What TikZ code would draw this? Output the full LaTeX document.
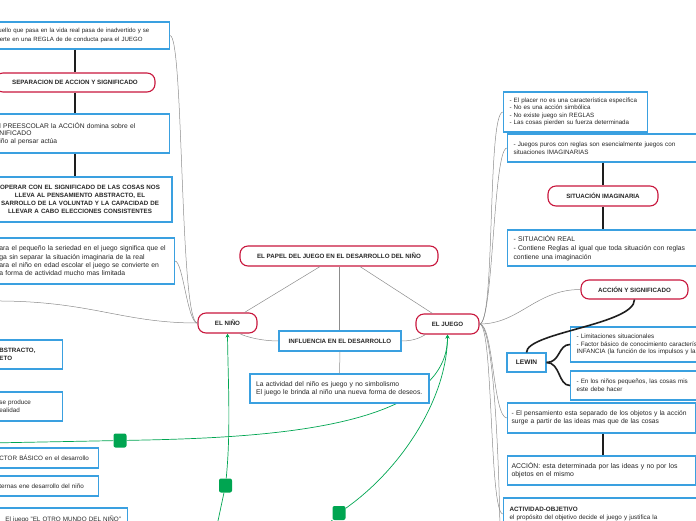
\documentclass[tikz,border=0pt]{standalone}
\usepackage{fontspec}
\setmainfont{Liberation Sans}
\usetikzlibrary{arrows.meta}
\definecolor{map-red}{HTML}{C8163C}
\definecolor{map-blue}{HTML}{3AA0E0}
\definecolor{map-green}{HTML}{00A551}
\definecolor{map-gray}{HTML}{8C8C8C}
\definecolor{map-dark}{HTML}{1E1E1E}

\begin{document}
\begin{tikzpicture}[x=1pt, y=-1pt, >={Stealth[length=4pt, width=4pt]},
      every node/.style={font=\fontsize{6.3}{7.8}\selectfont, text=black!85},
      topic/.style={draw=map-red, line width=1.1pt, fill=white, rounded corners=8pt,
        minimum height=19pt, inner sep=2pt, font=\bfseries\fontsize{6.2}{7.6}\selectfont},
      note/.style={draw=map-blue, line width=1.1pt, fill=white, align=left,
        inner xsep=6pt, inner ysep=2pt},
      heading/.style={font=\bfseries\fontsize{6.2}{7.8}\selectfont},
      big/.style={font=\fontsize{6.8}{8.3}\selectfont},
      branch/.style={draw=map-gray, line width=0.5pt},
      chain/.style={draw=map-dark, line width=1.6pt},
      link/.style={draw=map-green, line width=0.7pt},
      handle/.style={fill=map-green, rounded corners=2pt, minimum width=13pt,
        minimum height=14pt, inner sep=0pt}]
    \useasboundingbox (0,0) rectangle (696,520);
    \clip (0,0) rectangle (696,520);
    \node[topic, minimum width=198pt, minimum height=20pt] (TITLE) at (339,256) {EL PAPEL DEL JUEGO EN EL DESARROLLO DEL NIÑO};
    \node[topic, minimum width=59pt, minimum height=20pt] (NINO) at (227.5,323) {EL NIÑO};
    \node[topic, minimum width=63pt, minimum height=20pt] (JUEGO) at (447.5,324) {EL JUEGO};
    \node[note, heading, align=center, minimum width=122pt, minimum height=20pt] (INFL) at (340,341) {INFLUENCIA EN EL DESARROLLO};
    % rama del nino
    \node[note, anchor=east, text width=165pt, minimum height=27pt, font=\fontsize{6.1}{8.6}\selectfont] (REGLA) at (170,35.5) {uello que pasa en la vida real pasa de inadvertido y se\\ierte en una REGLA de de conducta para el JUEGO};
    \node[topic, minimum width=160pt] (SEPARA) at (75,82.5) {SEPARACION DE ACCION Y SIGNIFICADO};
    \node[note, anchor=east, text width=164pt, minimum height=39pt, font=\fontsize{6.7}{7.6}\selectfont] (PREESC) at (170,133.5) {l PREESCOLAR la ACCIÓN domina sobre el\\NIFICADO\\iño al pensar actúa};
    \node[note, heading, align=center, text width=172pt, minimum height=45pt] (OPERAR) at (80,199.5) {OPERAR CON EL SIGNIFICADO DE LAS COSAS NOS\\LLEVA AL PENSAMIENTO ABSTRACTO, EL\\SARROLLO DE LA VOLUNTAD Y LA CAPACIDAD DE\\LLEVAR A CABO ELECCIONES CONSISTENTES};
    \node[note, big, anchor=east, text width=169pt, minimum height=46pt] (PEQUE) at (175,261) {ara el pequeño la seriedad en el juego significa que el\\ga sin separar la situación imaginaria de la real\\ara el niño en edad escolar el juego se convierte en\\a forma de actividad mucho mas limitada};
    \node[note, heading, anchor=east, text width=57pt, minimum height=29pt] (ABSTR) at (63,354.5) {BSTRACTO,\\ETO};
    \node[note, anchor=east, text width=57pt, minimum height=29pt] (REALID) at (63,406.5) {se produce\\ealidad};
    \node[note, anchor=east, text width=93pt, minimum height=20pt] (FACTOR) at (99,458) {CTOR BÁSICO en el desarrollo};
    \node[note, anchor=east, text width=93pt, minimum height=20pt] (INTERN) at (99,486) {ternas ene desarrollo del niño};
    \node[note, anchor=east, text width=116pt, minimum height=22pt] (OTRO) at (128,519) {El juego "EL OTRO MUNDO DEL NIÑO"};
    % rama del juego
    \node[note, anchor=west, text width=132pt, minimum height=40pt, font=\fontsize{6.2}{7.4}\selectfont] (PLACER) at (503,112) {- El placer no es una característica específica\\- No es una acción simbólica\\- No existe juego sin REGLAS\\- Las cosas pierden su fuerza determinada};
    \node[note, anchor=west, text width=190pt, minimum height=28pt] (PUROS) at (507,148) {- Juegos puros con reglas son esencialmente juegos con\\situaciones IMAGINARIAS};
    \node[topic, minimum width=110pt, minimum height=20pt] (SITIMAG) at (603,196) {SITUACIÓN IMAGINARIA};
    \node[note, big, anchor=west, text width=190pt, minimum height=36pt] (REAL) at (507,248) {- SITUACIÓN REAL\\[1pt]- Contiene Reglas al igual que toda situación con reglas\\contiene una imaginación};
    \node[topic, minimum width=107pt] (ACCSIG) at (634.5,289.5) {ACCIÓN Y SIGNIFICADO};
    \node[note, align=center, minimum width=39pt, minimum height=19pt, inner xsep=2pt, font=\bfseries\fontsize{6.6}{8}\selectfont] (LEWIN) at (526.5,362.5) {LEWIN};
    \node[note, anchor=west, text width=200pt, minimum height=35pt] (LIMIT) at (570,344.5) {- Limitaciones situacionales\\- Factor básico de conocimiento característi\\INFANCIA (la función de los impulsos y la};
    \node[note, anchor=west, text width=200pt, minimum height=29pt] (PEQNIN) at (570,385.5) {- En los niños pequeños, las cosas mis\\este debe hacer};
    \node[note, anchor=west, text width=180pt, inner xsep=4pt, minimum height=30pt, font=\fontsize{6.7}{8.3}\selectfont] (PENSAM) at (507,418) {- El pensamiento esta separado de los objetos y la acción\\surge a partir de las ideas mas que de las cosas};
    \node[note, anchor=west, text width=180pt, inner xsep=4pt, minimum height=29pt, font=\fontsize{6.9}{8.3}\selectfont] (ACCION) at (507,470.5) {ACCIÓN: esta determinada por las ideas y no por los\\objetos en el mismo};
    \node[note, anchor=west, text width=200pt, minimum height=32pt] (OBJET) at (503,514) {\textbf{ACTIVIDAD-OBJETIVO}\\el propósito del objetivo decide el juego y justifica la};
    \node[handle] (GQA) at (120,440.5) {};
    \node[handle] (GQB) at (225.5,485.5) {};
    \node[handle] (GQC) at (339,513) {};
    \coordinate (OFFA) at (-10,443);
    \coordinate (OFFB) at (215,535);
    \coordinate (OFFC) at (318,535);
    \coordinate (OFFL) at (-10,301);
    \coordinate (OFFR) at (500,540);
    % enlaces verdes
    \draw[link] (OFFA) -- (GQA);
    \draw[link, ->] (GQA) .. controls (260,438) and (448,430) .. (JUEGO.south);
    \draw[link] (OFFB) -- (GQB);
    \draw[link, ->] (GQB) .. controls (231,430) and (228,380) .. (NINO.south);
    \draw[link] (OFFC) -- (GQC);
    \draw[link, ->] (GQC) .. controls (400,470) and (447,400) .. (JUEGO.south);
    \node[note, big, text width=167pt, minimum height=29pt] (ACTIV) at (339.5,388.5) {La actividad del niño es juego y no simbolismo\\El juego le brinda al niño una nueva forma de deseos.};
    \draw[branch] ([xshift=-19pt]TITLE.south) -- ([xshift=17pt]NINO.north);
    \draw[branch] (TITLE.south) -- (TITLE.south |- INFL.north);
    \draw[branch] ([xshift=21pt]TITLE.south) -- ([xshift=-15pt]JUEGO.north);
    \draw[branch] (INFL.west) .. controls +(-15,0) and +(8,4) .. ([xshift=12pt]NINO.south);
    \draw[branch] (INFL.east) .. controls +(12,0) and +(-5,3) .. ([xshift=-22pt]JUEGO.south);
    \draw[branch] (INFL.south) -- (ACTIV.north);
    \draw[branch] (REGLA.east) .. controls +(14,0) and +(-18,0) .. (NINO.west);
    \draw[branch] (PEQUE.east) .. controls +(8,0) and +(-10,0) .. (NINO.west);
    \draw[branch] (OFFL) .. controls (90,300) and (120,323) .. (NINO.west);
    \draw[chain] (SEPARA.north |- REGLA.south) -- (SEPARA.north);
    \draw[chain] (SEPARA.south) -- (SEPARA.south |- PREESC.north);
    \draw[chain] (SEPARA.south |- PREESC.south) -- (SEPARA.south |- OPERAR.north);
    \draw[branch] (JUEGO.east) .. controls +(16,0) and +(-16,0) .. (PLACER.west);
    \draw[branch] (JUEGO.east) .. controls +(14,0) and +(-14,0) .. (PUROS.west);
    \draw[branch] (JUEGO.east) .. controls +(40,0) and +(-45,0) .. (ACCSIG.west);
    \draw[branch] (JUEGO.east) .. controls +(14,0) and +(-14,0) .. (PENSAM.west);
    \draw[branch] (JUEGO.east) .. controls +(14,0) and +(-14,0) .. (OBJET.west);
    \draw[branch] (JUEGO.east) .. controls +(16,0) and +(0,-40) .. (OFFR);
    \draw[chain] (SITIMAG.north |- PUROS.south) -- (SITIMAG.north);
    \draw[chain] (SITIMAG.south) -- (SITIMAG.south |- REAL.north);
    \draw[chain] (ACCSIG.south) .. controls +(0,25) and +(0,-20) .. (LEWIN.north);
    \draw[chain] (LEWIN.east) .. controls +(14,0) and +(-12,0) .. (LIMIT.west);
    \draw[chain] (LEWIN.east) .. controls +(14,0) and +(-12,0) .. (PEQNIN.west);
    \draw[chain] (SITIMAG.south |- PENSAM.south) -- (SITIMAG.south |- ACCION.north);
  \end{tikzpicture}
\end{document}
